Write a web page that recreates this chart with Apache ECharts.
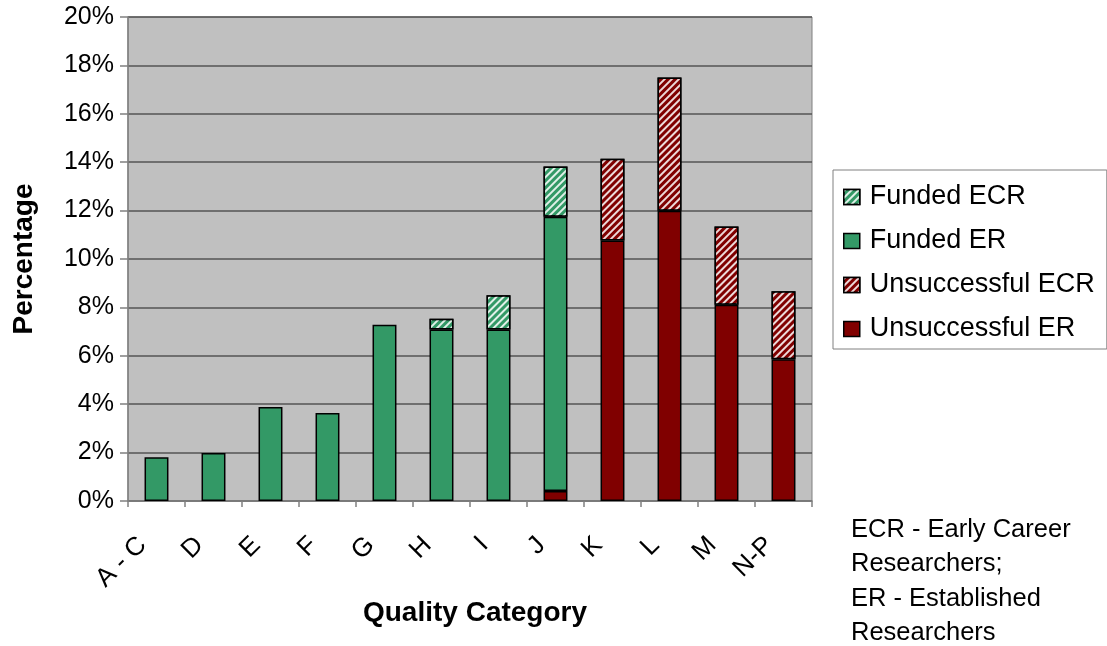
<!DOCTYPE html>
<html>
<head>
<meta charset="utf-8">
<script src="https://cdn.jsdelivr.net/npm/echarts@6/dist/echarts.min.js"></script>
<style>
  html, body { margin: 0; padding: 0; background: #ffffff; }
  #chart { width: 1107px; height: 646px; }
</style>
</head>
<body>
<div id="chart"></div>
<script>
// ---- Data ----
var categories = ['A - C', 'D', 'E', 'F', 'G', 'H', 'I', 'J', 'K', 'L', 'M', 'N-P'];
var unsuccessfulER  = [null, null, null, null, null, null, null, 0.41, 10.76, 11.99, 8.11, 5.86];
var unsuccessfulECR = [null, null, null, null, null, null, null, null, 3.38, 5.51, 3.23, 2.81];
var fundedER        = [1.81, 1.98, 3.88, 3.64, 7.28, 7.09, 7.09, 11.34, null, null, null, null];
var fundedECR       = [null, null, null, null, null, 0.44, 1.41, 2.07, null, null, null, null];
var yTicks = [0, 2, 4, 6, 8, 10, 12, 14, 16, 18, 20];
var legendOrder = ['Funded ECR', 'Funded ER', 'Unsuccessful ECR', 'Unsuccessful ER'];
var noteLines = ['ECR - Early Career', 'Researchers;', 'ER - Established', 'Researchers'];

var GREEN = '#339966';
var RED = '#800000';
var FONT = '"Liberation Sans", Arial, sans-serif';

var hatch = {
  symbol: 'rect',
  symbolSize: 1,
  dashArrayX: [1, 0],
  dashArrayY: [2, 3],
  rotation: -Math.PI / 4,
  color: 'rgba(255,255,255,0.85)'
};

function barSeries(name, data, color, hatched) {
  var style = { color: color, borderColor: '#000000', borderWidth: 1.5 };
  if (hatched) style.decal = hatch;
  return {
    name: name,
    type: 'bar',
    stack: 'total',
    data: data,
    barWidth: '42%',
    itemStyle: style,
    emphasis: { disabled: true }
  };
}

var chart = echarts.init(document.getElementById('chart'), null, { renderer: 'canvas' });
chart.setOption({
  animation: false,
  backgroundColor: '#ffffff',
  textStyle: { fontFamily: FONT },
  grid: {
    left: 128, right: 295, top: 17, bottom: 145,
    show: true, backgroundColor: '#C0C0C0', borderColor: '#808080', borderWidth: 1
  },
  legend: {
    orient: 'vertical',
    left: 833, top: 170,
    data: legendOrder,
    icon: 'rect',
    itemWidth: 16, itemHeight: 15,
    itemGap: 16,
    padding: [13, 12, 6, 10],
    borderColor: '#808080', borderWidth: 1,
    backgroundColor: '#ffffff',
    itemStyle: { borderColor: '#000000', borderWidth: 1.5 },
    textStyle: { fontFamily: FONT, fontSize: 27, color: '#000000', lineHeight: 28, padding: [0, 0, 0, 5] },
    selectedMode: false
  },
  xAxis: {
    type: 'category',
    data: categories,
    name: 'Quality Category',
    nameLocation: 'middle',
    nameGap: 93,
    nameTextStyle: { fontFamily: FONT, fontSize: 28, fontWeight: 'bold', color: '#000000', padding: [0, 0, 0, 10] },
    axisLine: { lineStyle: { color: '#808080', width: 1.5 } },
    axisTick: { show: true, length: 6, alignWithLabel: false, lineStyle: { color: '#808080', width: 1.5 } },
    axisLabel: { rotate: 45, fontSize: 26, color: '#000000', margin: 26, padding: [0, 20, 0, 0], fontFamily: FONT }
  },
  yAxis: {
    type: 'value',
    min: yTicks[0],
    max: yTicks[yTicks.length - 1],
    interval: 2,
    name: 'Percentage',
    nameLocation: 'middle',
    nameGap: 90,
    nameTextStyle: { fontFamily: FONT, fontSize: 28, fontWeight: 'bold', color: '#000000' },
    axisLine: { show: true, lineStyle: { color: '#808080', width: 1.5 } },
    axisTick: { show: true, length: 8, lineStyle: { color: '#808080', width: 1.5 } },
    axisLabel: { formatter: '{value}%', fontSize: 25, color: '#000000', margin: 14, fontFamily: FONT },
    splitLine: { show: true, lineStyle: { color: '#555555', width: 1.5 } }
  },
  series: [
    barSeries('Unsuccessful ER', unsuccessfulER, RED, false),
    barSeries('Unsuccessful ECR', unsuccessfulECR, RED, true),
    barSeries('Funded ER', fundedER, GREEN, false),
    barSeries('Funded ECR', fundedECR, GREEN, true)
  ],
  graphic: [{
    type: 'text',
    left: 851, top: 513,
    style: {
      text: noteLines.join('\n'),
      font: '25.5px ' + FONT,
      fill: '#000000',
      lineHeight: 34.2
    }
  }]
});
</script>
</body>
</html>
